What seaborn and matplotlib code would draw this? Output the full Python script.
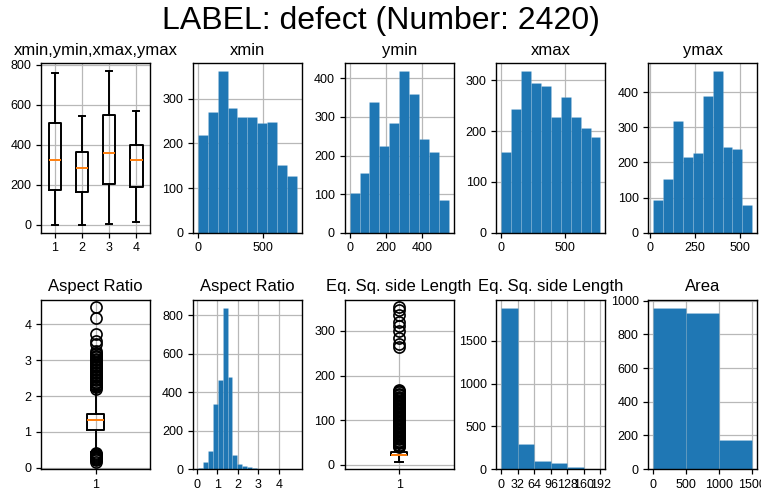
import numpy as np
import matplotlib
matplotlib.use("Agg")
import matplotlib.pyplot as plt
import seaborn as sns

plt.rcParams['font.family'] = ['Liberation Sans', 'DejaVu Sans']

TITLE = "LABEL: defect (Number: 2420)"
BLUE = "#1f77b4"

# ---- box statistics (xmin, ymin, xmax, ymax) ----
box_names = ["1", "2", "3", "4"]
box_med = [324, 285, 359, 324]
box_q1 = [174, 164, 207, 190]
box_q3 = [511, 366, 548, 399]
box_lo = [0, 0, 5, 17]
box_hi = [761, 544, 771, 569]

# ---- histograms (10 bins) ----
xmin_edges = [0, 75.6, 151.2, 226.8, 302.4, 378, 453.6, 529.2, 604.8, 680.4, 756]
xmin_counts = [218, 270, 362, 280, 258, 260, 245, 247, 151, 126]
xmin_ticks = [0, 500]

ymin_edges = [0, 54.4, 108.8, 163.2, 217.6, 272, 326.4, 380.8, 435.2, 489.6, 544]
ymin_counts = [102, 154, 338, 224, 284, 419, 359, 243, 210, 85]
ymin_ticks = [0, 200, 400]

xmax_edges = [5, 81.6, 158.2, 234.8, 311.4, 388, 464.6, 541.2, 617.8, 694.4, 771]
xmax_counts = [158, 243, 318, 294, 288, 228, 267, 227, 206, 188]
xmax_ticks = [0, 500]

ymax_edges = [17, 72.2, 127.4, 182.6, 237.8, 293, 348.2, 403.4, 458.6, 513.8, 569]
ymax_counts = [92, 153, 317, 215, 226, 390, 460, 244, 239, 80]
ymax_ticks = [0, 250, 500]

# ---- aspect ratio ----
ar_med, ar_q1, ar_q3, ar_lo, ar_hi = 1.34, 1.04, 1.50, 0.44, 2.16
ar_fliers = [0.17, 0.20, 0.23, 0.26, 0.29, 0.32, 0.35, 0.38, 0.41,
             2.20, 2.24, 2.28, 2.32, 2.36, 2.40, 2.44, 2.48, 2.52, 2.56,
             2.60, 2.64, 2.68, 2.72, 2.76, 2.80, 2.84, 2.88, 2.92, 2.96,
             3.00, 3.04, 3.08, 3.12, 3.16, 3.20, 3.25,
             3.44, 3.53, 3.74, 4.18, 4.48]
ar_edges = [0.06, 0.30, 0.54, 0.78, 1.02, 1.26, 1.50, 1.74, 1.98, 2.22, 2.46,
            2.70, 2.94, 3.18, 3.42, 3.66, 3.90, 4.14, 4.38, 4.62, 4.86]
ar_counts = [8, 37, 97, 341, 466, 840, 481, 73, 25, 19, 14, 4, 3, 2, 1, 1, 0, 1, 1, 0]
ar_ticks = [0, 1, 2, 3, 4]

# ---- equivalent square side length ----
eq_med, eq_q1, eq_q3, eq_lo, eq_hi = 22.5, 21.5, 29.0, 7.4, 38.0
eq_fliers = [39, 42, 45, 48, 51, 54, 57, 60, 63, 66, 69, 72, 75, 78, 81, 84,
             87, 90, 93, 96, 99, 102, 105, 108, 111, 114, 117, 120, 123, 126,
             129, 132, 135, 138, 141, 144, 147, 150, 153, 156, 159, 162, 165, 168,
             265, 270, 283, 300, 310, 321, 336, 347, 353]
eq_edges = [0, 32, 64, 96, 128, 160, 192]
eq_counts = [1890, 297, 101, 78, 31, 2]

# ---- area ----
area_edges = [0, 500, 1000, 1500]
area_counts = [958, 925, 176]

fig, axes = plt.subplots(2, 5, figsize=(7.61, 4.96), dpi=100)
fig.subplots_adjust(left=0.054, right=0.995, bottom=0.054, top=0.873,
                    wspace=0.394, hspace=0.394)

boxkw = dict(
    boxprops=dict(color="black", linewidth=1.4),
    whiskerprops=dict(color="black", linewidth=1.4),
    capprops=dict(color="black", linewidth=1.4),
    medianprops=dict(color="#ff7f0e", linewidth=1.4),
    flierprops=dict(marker="o", markerfacecolor="none", markeredgecolor="black",
                    markersize=8, markeredgewidth=1.2),
)


def style(ax, title):
    ax.set_title(title, fontsize=12)
    ax.grid(True, color="#b8b8b8", linewidth=0.9)
    ax.set_axisbelow(True)
    ax.tick_params(labelsize=9, colors="black", width=0.9, length=3.5)
    for s in ax.spines.values():
        s.set_color("black")
        s.set_linewidth(1.0)
    ax.set_xlabel("")
    ax.set_ylabel("")


def hist(ax, edges, counts, title, ticks):
    centers = [(edges[i] + edges[i + 1]) / 2 for i in range(len(counts))]
    sns.histplot(x=centers, weights=counts, bins=edges, ax=ax, color=BLUE,
                 alpha=1.0, edgecolor=(1, 1, 1, 0.15), linewidth=0.5)
    style(ax, title)
    ax.set_xticks(ticks)


# box plot of 4 coordinates
stats = []
for i in range(4):
    stats.append(dict(label=box_names[i], med=box_med[i], q1=box_q1[i], q3=box_q3[i],
                      whislo=box_lo[i], whishi=box_hi[i], fliers=[]))
axes[0, 0].bxp(stats, **boxkw)
style(axes[0, 0], "xmin,ymin,xmax,ymax")

hist(axes[0, 1], xmin_edges, xmin_counts, "xmin", xmin_ticks)
hist(axes[0, 2], ymin_edges, ymin_counts, "ymin", ymin_ticks)
hist(axes[0, 3], xmax_edges, xmax_counts, "xmax", xmax_ticks)
hist(axes[0, 4], ymax_edges, ymax_counts, "ymax", ymax_ticks)

axes[1, 0].bxp([dict(label="1", med=ar_med, q1=ar_q1, q3=ar_q3, whislo=ar_lo,
                     whishi=ar_hi, fliers=ar_fliers)], **boxkw)
style(axes[1, 0], "Aspect Ratio")

hist(axes[1, 1], ar_edges, ar_counts, "Aspect Ratio", ar_ticks)

axes[1, 2].bxp([dict(label="1", med=eq_med, q1=eq_q1, q3=eq_q3, whislo=eq_lo,
                     whishi=eq_hi, fliers=eq_fliers)], **boxkw)
style(axes[1, 2], "Eq. Sq. side Length")

hist(axes[1, 3], eq_edges, eq_counts, "Eq. Sq. side Length", eq_edges)

hist(axes[1, 4], area_edges, area_counts, "Area", area_edges)

fig.suptitle(TITLE, fontsize=23, y=0.988, va="top")
fig.savefig("out.png", dpi=100)
